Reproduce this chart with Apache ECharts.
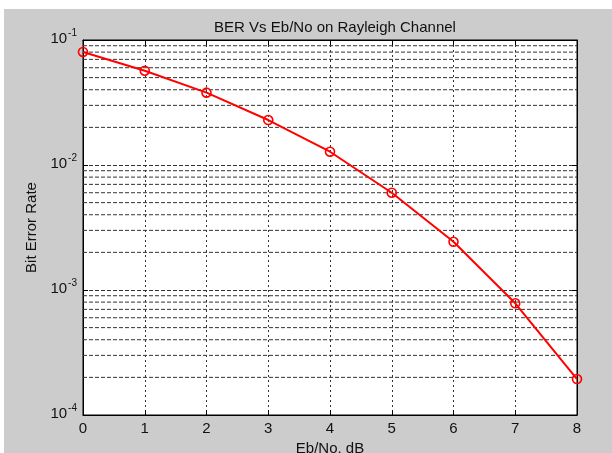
<!DOCTYPE html>
<html>
<head>
<meta charset="utf-8">
<script src="https://cdn.jsdelivr.net/npm/echarts@6/dist/echarts.min.js"></script>
<style>
html,body{margin:0;padding:0;background:#ffffff;width:612px;height:453px;overflow:hidden;}
#c{position:absolute;left:4px;top:9px;width:608px;height:444px;background:#cccccc;}
</style>
</head>
<body>
<div id="c"></div>
<script>
// ---- data ----
const ebNo = [0, 1, 2, 3, 4, 5, 6, 7, 8];
const ber = [0.0802, 0.0568, 0.0379, 0.0229, 0.01277, 0.0060, 0.00243, 0.000783, 0.000194];
const yDecades = [1e-4, 1e-3, 1e-2];
const minorMultipliers = [2, 3, 4, 5, 6, 7, 8, 9];
const xMin = 0, xMax = 8;
const titleText = 'BER Vs Eb/No on Rayleigh Channel';
const xLabel = 'Eb/No, dB';
const yLabel = 'Bit Error Rate';

const FONT = '"Liberation Sans", Arial, sans-serif';
const minorValues = [];
yDecades.forEach(d => minorMultipliers.forEach(m => minorValues.push(+(d * m).toPrecision(6))));

const chart = echarts.init(document.getElementById('c'), null, { renderer: 'canvas' });
const supLabel = function (v) {
  const e = Math.round(Math.log10(v));
  return '{b|10}{s|' + e + '}';
};
const richStyle = {
  b: { fontSize: 15, fontFamily: FONT, color: '#111', lineHeight: 20, verticalAlign: 'bottom' },
  s: { fontSize: 10, fontFamily: FONT, color: '#111', lineHeight: 12, verticalAlign: 'top', padding: [2, 0, 0, 1] }
};

const minorSeries = minorValues.map(v => ({
  type: 'line',
  xAxisIndex: 0, yAxisIndex: 0,
  data: [[xMin, v], [xMax, v]],
  symbol: 'none',
  silent: true,
  lineStyle: { color: '#333', type: [4, 2], width: 1 },
  z: 1
}));

chart.setOption({
  animation: false,
  backgroundColor: '#cccccc',
  title: {
    text: titleText,
    left: 326,
    top: 6,
    textAlign: 'center',
    textStyle: { fontSize: 15, fontWeight: 'normal', fontFamily: FONT, color: '#111' }
  },
  grid: {
    left: 79, top: 31, right: 35, bottom: 38,
    containLabel: false,
    outerBoundsMode: 'none',
    show: true, backgroundColor: '#ffffff', borderColor: '#000', borderWidth: 1
  },
  xAxis: [{
    type: 'value', min: xMin, max: xMax, interval: 1, position: 'bottom',
    name: xLabel, nameLocation: 'middle', nameGap: 23,
    nameTextStyle: { fontSize: 15, fontFamily: FONT, color: '#111' },
    axisLine: { show: true, onZero: false, lineStyle: { color: '#000', width: 1 } },
    axisTick: { show: true, inside: true, length: 5, lineStyle: { color: '#000' } },
    axisLabel: { fontSize: 15, fontFamily: FONT, color: '#111', margin: 6 },
    splitLine: { show: true, lineStyle: { color: '#333', type: [2, 3], width: 1 } }
  }, {
    type: 'value', min: xMin, max: xMax, interval: 1, position: 'top',
    axisLine: { show: true, onZero: false, lineStyle: { color: '#000' } },
    axisTick: { show: true, inside: true, length: 5, lineStyle: { color: '#000' } },
    axisLabel: { show: false },
    splitLine: { show: false }
  }],
  yAxis: [{
    type: 'log', logBase: 10, min: 1e-4, max: 1e-1, position: 'left',
    name: yLabel, nameLocation: 'middle', nameGap: 40, nameRotate: 90,
    nameTextStyle: { fontSize: 15, fontFamily: FONT, color: '#111' },
    axisLine: { show: true, onZero: false, lineStyle: { color: '#000', width: 1 } },
    axisTick: { show: true, inside: true, length: 5, lineStyle: { color: '#000' } },
    axisLabel: { margin: 6, formatter: supLabel, rich: richStyle, padding: [0, 0, 8, 0] },
    splitLine: { show: true, lineStyle: { color: '#333', type: [4, 2], width: 1 } }
  }, {
    type: 'log', logBase: 10, min: 1e-4, max: 1e-1, position: 'right',
    axisLine: { show: true, onZero: false, lineStyle: { color: '#000' } },
    axisTick: { show: true, inside: true, length: 5, lineStyle: { color: '#000' } },
    axisLabel: { show: false },
    splitLine: { show: false }
  }],
  series: minorSeries.concat([{
    type: 'line',
    xAxisIndex: 0, yAxisIndex: 0,
    data: ebNo.map((x, i) => [x, ber[i]]),
    clip: false,
    symbol: 'circle',
    symbolSize: 9,
    lineStyle: { color: '#ff0000', width: 2 },
    itemStyle: { color: 'rgba(255,255,255,0)', borderColor: '#ff0000', borderWidth: 1.6 },
    z: 5
  }])
});
</script>
</body>
</html>
